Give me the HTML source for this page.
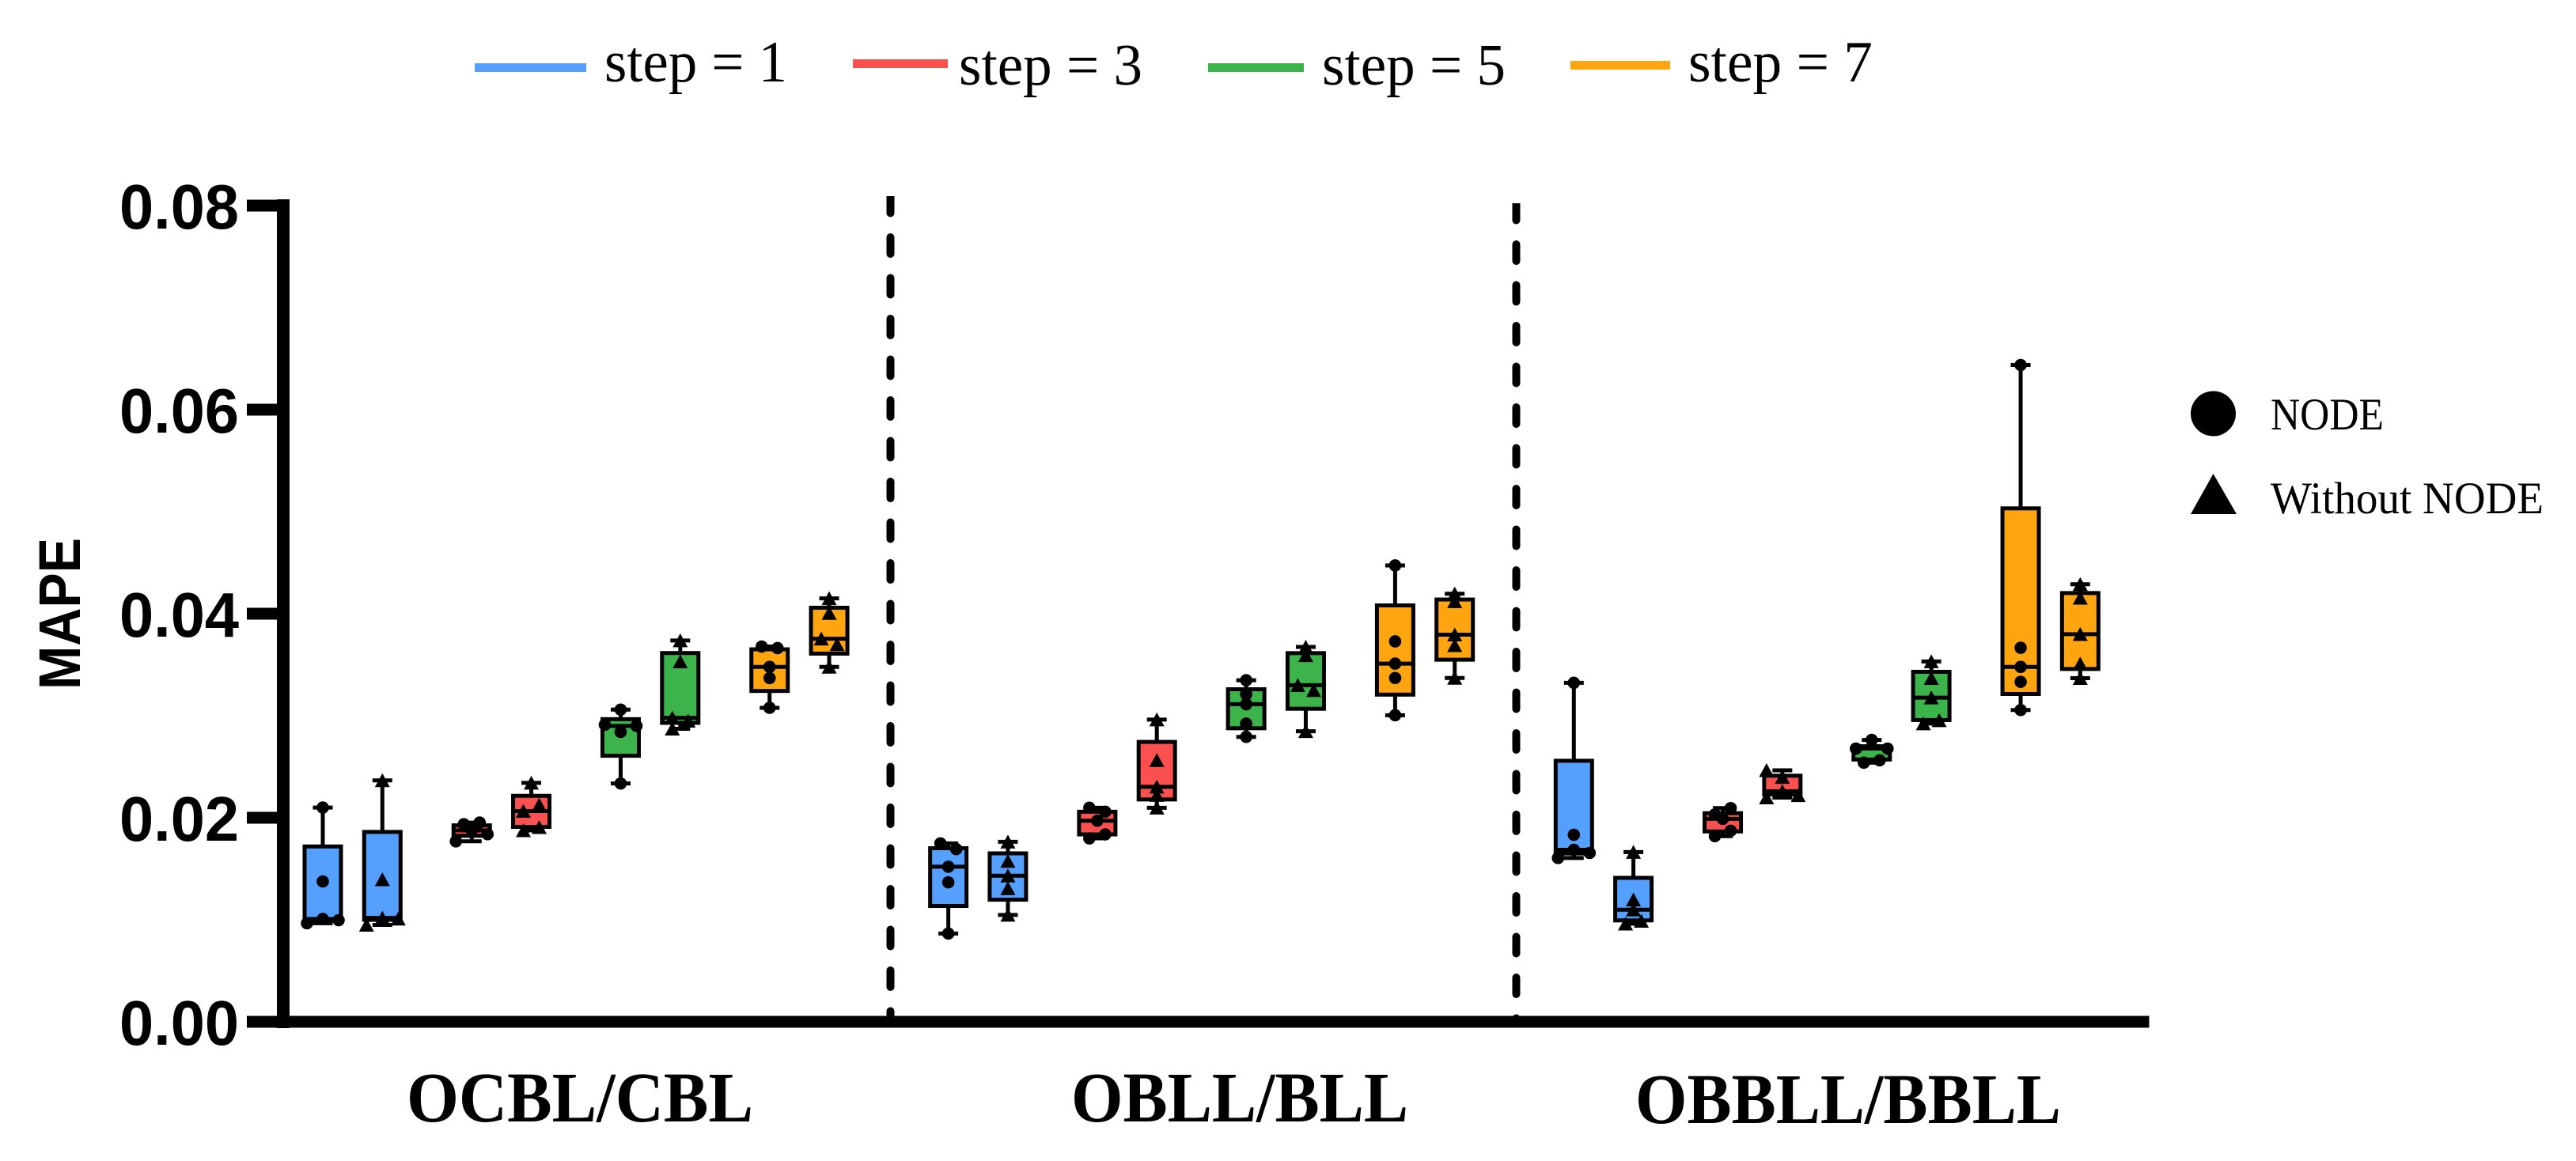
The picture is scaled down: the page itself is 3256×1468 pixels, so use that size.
<!DOCTYPE html>
<html lang="en">
<head>
<meta charset="utf-8">
<title>MAPE box plots</title>
<style>
html,body{margin:0;padding:0;background:#fff;}
svg{display:block;}
.serif{font-family:"Liberation Serif","Times New Roman",serif;fill:#000;}
.sans{font-family:"Liberation Sans",Arial,sans-serif;font-weight:700;fill:#000;}
</style>
</head>
<body>
<svg id="chart" xmlns="http://www.w3.org/2000/svg" width="3256" height="1468" viewBox="0 0 3256 1468">
  <rect x="0" y="0" width="3256" height="1468" fill="#ffffff"/>

  <g>
    <rect x="600" y="80" width="141" height="11" fill="#559fff"/>
    <text class="serif" x="764" y="103" font-size="74" textLength="231" lengthAdjust="spacingAndGlyphs">step = 1</text>
    <rect x="1078" y="75" width="120" height="11" fill="#fa5050"/>
    <text class="serif" x="1212" y="107" font-size="74" textLength="232" lengthAdjust="spacingAndGlyphs">step = 3</text>
    <rect x="1527" y="80" width="121" height="11" fill="#3cb44b"/>
    <text class="serif" x="1671" y="107" font-size="74" textLength="232" lengthAdjust="spacingAndGlyphs">step = 5</text>
    <rect x="1985" y="77" width="126" height="11" fill="#ffa50f"/>
    <text class="serif" x="2134" y="103" font-size="74" textLength="233" lengthAdjust="spacingAndGlyphs">step = 7</text>
  </g>

  <g>
    <circle cx="2797.5" cy="523" r="28.5" fill="#000"/>
    <text class="serif" x="2870" y="543" font-size="57" textLength="143" lengthAdjust="spacingAndGlyphs">NODE</text>
    <polygon points="2769,650 2797.5,599 2827,650" fill="#000"/>
    <text class="serif" x="2870" y="649" font-size="57" textLength="345" lengthAdjust="spacingAndGlyphs">Without NODE</text>
  </g>

  <text class="sans" font-size="74" text-anchor="start" transform="translate(101,872) rotate(-90)" textLength="192" lengthAdjust="spacingAndGlyphs">MAPE</text>

  <text class="serif" font-weight="700" x="514" y="1418" font-size="90" textLength="438" lengthAdjust="spacingAndGlyphs">OCBL/CBL</text>
  <text class="serif" font-weight="700" x="1354" y="1418" font-size="90" textLength="426" lengthAdjust="spacingAndGlyphs">OBLL/BLL</text>
  <text class="serif" font-weight="700" x="2067" y="1420" font-size="90" textLength="538" lengthAdjust="spacingAndGlyphs">OBBLL/BBLL</text>

  <defs>
    <clipPath id="sep-clip-1"><rect x="1110" y="248" width="30" height="1040"/></clipPath>
    <clipPath id="sep-clip-2"><rect x="1900" y="257" width="30" height="1031"/></clipPath>
  </defs>
  <line x1="1125.5" x2="1125.5" y1="248.5" y2="1290" stroke="#000" stroke-width="10" stroke-linecap="round" stroke-dasharray="21 30.5" clip-path="url(#sep-clip-1)"/>
  <line x1="1916.5" x2="1916.5" y1="257.5" y2="1290" stroke="#000" stroke-width="10" stroke-linecap="round" stroke-dasharray="21 30.5" clip-path="url(#sep-clip-2)"/>

  <g id="boxes"></g>
  <g id="axes"></g>
</svg>

<script>
// Tick values of the y axis
const yTicks = [0, 0.02, 0.04, 0.06, 0.08];
const yTickLabels = ["0.00", "0.02", "0.04", "0.06", "0.08"];

// Categories
const groupNames = ["OCBL/CBL", "OBLL/BLL", "OBBLL/BBLL"];
const stepNames = ["step-1", "step-3", "step-5", "step-7"];
const methodNames = ["node", "without-node"];

// Each box lists its five MAPE readings, row by row; readings in one row sit side by side (null = empty slot).
const ocblStep1Node = [[0.0210], [0.01376], [0.00966, 0.01008, 0.00996]];
const ocblStep1Plain = [[0.02366], [0.01395], [0.0095, 0.01018, 0.0101]];
const ocblStep3Node = [[0.01937, 0.01953], [0.01769, 0.01876, 0.01839]];
const ocblStep3Plain = [[0.02342], [0.02066, 0.02127], [0.01876, 0.01907]];
const ocblStep5Node = [[0.0306], [0.02912, 0.02841, 0.029], [0.02336]];
const ocblStep5Plain = [[0.03737], [0.03531], [0.0298, 0.0295], [0.02872, null]];
const ocblStep7Node = [[0.03678, 0.03663], [0.03479], [0.03369], [0.03078]];
const ocblStep7Plain = [[0.0415], [0.04006], [0.03755, 0.037], [0.03479]];

const obllStep1Node = [[0.01749, 0.01693], [0.0152], [0.01367], [0.00865]];
const obllStep1Plain = [[0.01765], [0.01576], [0.01432], [0.01308], [0.01047]];
const obllStep3Node = [[0.02098, 0.02059], [0.01971], [0.01798, 0.01837]];
const obllStep3Plain = [[0.02962], [0.02564], [0.02303], [0.02222], [0.02098]];
const obllStep5Node = [[0.03348], [0.0321], [0.03113], [0.02923], [0.02793]];
const obllStep5Plain = [[0.03674], [0.03592], [0.03299, 0.0325], [0.02848]];
const obllStep7Node = [[0.04473], [0.03729], [0.03511], [0.0337], [0.03005]];
const obllStep7Plain = [[0.04196], [0.04121], [0.03795], [0.0369], [0.0337]];

const obbllStep1Node = [[0.03323], [0.01833], [0.01606, 0.01686, 0.01655]];
const obbllStep1Plain = [[0.01664], [0.01197], [0.01099], [0.00961, 0.00988]];
const obbllStep3Node = [[0.02033, 0.02095], [0.01989], [0.0182, 0.01873]];
const obbllStep3Plain = [[0.02465, 0.02398, null], [0.02198, 0.0226, 0.0222]];
const obbllStep5Node = [[0.02763], [0.02678, null, 0.02678], [0.0254, 0.02563]];
const obbllStep5Plain = [[0.03532], [0.03368], [0.03177], [0.02923, 0.02954]];
const obbllStep7Node = [[0.06438], [0.03666], [0.03479], [0.03332], [0.03056]];
const obbllStep7Plain = [[0.04289], [0.04155], [0.03799], [0.0351], [0.03368]];

const ocblBoxes = [ocblStep1Node, ocblStep1Plain, ocblStep3Node, ocblStep3Plain, ocblStep5Node, ocblStep5Plain, ocblStep7Node, ocblStep7Plain];
const obllBoxes = [obllStep1Node, obllStep1Plain, obllStep3Node, obllStep3Plain, obllStep5Node, obllStep5Plain, obllStep7Node, obllStep7Plain];
const obbllBoxes = [obbllStep1Node, obbllStep1Plain, obbllStep3Node, obbllStep3Plain, obbllStep5Node, obbllStep5Plain, obbllStep7Node, obbllStep7Plain];
const allBoxes = [ocblBoxes, obllBoxes, obbllBoxes];

const stepColors = ["#559fff", "#fa5050", "#3cb44b", "#ffa50f"];

const SVG_NS = "http://www.w3.org/2000/svg";
function yScale(v) { return 1292 - v * 12900; }
function xScale(g, s, m) { return 408 + 75.3 * (g * 10.5 + s * 2.5 + m); }

function make(parent, tag, attrs) {
  const el = document.createElementNS(SVG_NS, tag);
  for (const k in attrs) el.setAttribute(k, attrs[k]);
  parent.appendChild(el);
  return el;
}

// Percentile by position p*(n+1), with linear interpolation
function percentile(sorted, p) {
  const pos = p * (sorted.length + 1);
  const lo = Math.max(1, Math.min(sorted.length, Math.floor(pos)));
  const hi = Math.max(1, Math.min(sorted.length, Math.ceil(pos)));
  return sorted[lo - 1] + (sorted[hi - 1] - sorted[lo - 1]) * (pos - Math.floor(pos));
}

function slotOffset(i, n) {
  return (i - (n - 1) / 2) * 20;
}

const boxLayer = document.getElementById("boxes");
const axisLayer = document.getElementById("axes");

allBoxes.forEach(function (groupBoxes, g) {
  groupBoxes.forEach(function (rows, b) {
    const s = Math.floor(b / 2);
    const m = b % 2;
    const cx = xScale(g, s, m);
    const values = rows.flat().filter(function (v) { return v !== null; }).sort(function (a, c) { return a - c; });
    const minV = values[0];
    const maxV = values[values.length - 1];
    const q1 = percentile(values, 0.25);
    const med = percentile(values, 0.5);
    const q3 = percentile(values, 0.75);
    const base = groupNames[g].toLowerCase().replace("/", "-") + "-" + stepNames[s] + "-" + methodNames[m];

    const box = make(boxLayer, "g", {});
    
    

    const whisker = make(box, "line", { x1: cx, x2: cx, y1: yScale(maxV), y2: yScale(minV), stroke: "#000", "stroke-width": 5 });
    
    

    const capTop = make(box, "line", { x1: cx - 12.5, x2: cx + 12.5, y1: yScale(maxV), y2: yScale(maxV), stroke: "#000", "stroke-width": 5 });
    
    

    const capBottom = make(box, "line", { x1: cx - 12.5, x2: cx + 12.5, y1: yScale(minV), y2: yScale(minV), stroke: "#000", "stroke-width": 5 });
    
    

    // The box outline sits just inside the quartile span
    const rect = make(box, "rect", { x: cx - 23, y: yScale(q3) + 2.5, width: 46, height: Math.max(1, yScale(q1) - yScale(q3) - 5), fill: stepColors[s], stroke: "#000", "stroke-width": 5 });
    
    

    const median = make(box, "line", { x1: cx - 23, x2: cx + 23, y1: yScale(med), y2: yScale(med), stroke: "#000", "stroke-width": 5 });
    
    

    rows.forEach(function (row) {
      row.forEach(function (v, i) {
        if (v === null) return;
        const px = cx + slotOffset(i, row.length);
        const py = yScale(v);
        let mark;
        if (m === 0) {
          mark = make(box, "circle", { cx: px, cy: py, r: 7.8, fill: "#000" });
        } else {
          mark = make(box, "polygon", { points: (px - 9.5) + "," + (py + 8.5) + " " + px + "," + (py - 9) + " " + (px + 9.5) + "," + (py + 8.5), fill: "#000" });
        }
        
        
      });
    });
  });
});

// Axes
const yAxisLine = make(axisLayer, "rect", { x: 350, y: yScale(0.08) - 8, width: 16, height: yScale(0) - yScale(0.08) + 16, fill: "#000" });



const xAxisLine = make(axisLayer, "rect", { x: 350, y: yScale(0) - 7.5, width: 2366.5, height: 15, fill: "#000" });



yTicks.forEach(function (t, i) {
  const y = yScale(t);
  const tick = make(axisLayer, "rect", { x: 312, y: y - 7.5, width: 40, height: 15, fill: "#000" });
  
  

  const label = make(axisLayer, "text", { x: 151, y: y + 29, "font-size": 80, class: "sans", textLength: 151, lengthAdjust: "spacingAndGlyphs" });
  label.textContent = yTickLabels[i];
  
  
});
</script>
</body>
</html>
